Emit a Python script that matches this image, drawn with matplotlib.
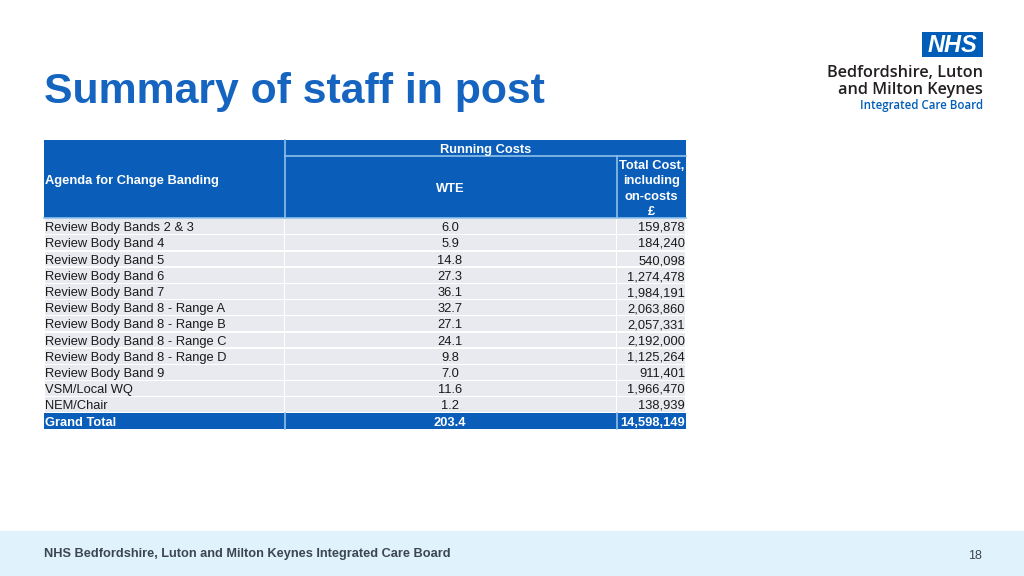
import matplotlib.pyplot as plt
from matplotlib.patches import Rectangle

bands = [
    "Review Body Bands 2 & 3",
    "Review Body Band 4",
    "Review Body Band 5",
    "Review Body Band 6",
    "Review Body Band 7",
    "Review Body Band 8 - Range A",
    "Review Body Band 8 - Range B",
    "Review Body Band 8 - Range C",
    "Review Body Band 8 - Range D",
    "Review Body Band 9",
    "VSM/Local WQ",
    "NEM/Chair",
]
wte = [6.0, 5.9, 14.8, 27.3, 36.1, 32.7, 27.1, 24.1, 9.8, 7.0, 11.6, 1.2]
total_cost = [159878, 184240, 540098, 1274478, 1984191, 2063860,
              2057331, 2192000, 1125264, 911401, 1966470, 138939]
total_label = "Grand Total"
total_wte = 203.4
total_cost_sum = 14598149

BLUE = "#0A5EB9"
LINE = "#8FC0EA"
ROW_BG = "#E8EAEF"
TEXT = "#1A1A1A"

plt.rcParams["font.family"] = ["Liberation Sans", "DejaVu Sans"]

fig = plt.figure(figsize=(10.24, 5.76), dpi=100)
ax = fig.add_axes([0, 0, 1, 1])
ax.set_xlim(0, 1024)
ax.set_ylim(576, 0)
ax.axis("off")

# title
ax.text(44, 92, "Summary of staff in post", color="#1565C0", fontsize=30.8,
        fontweight="bold", ha="left", va="center")

# logo
logo_font = ["Open Sans", "DejaVu Sans"]
ax.add_patch(Rectangle((922, 32), 61, 25, color="#005EB8", lw=0))
ax.text(952.5, 45, "NHS", color="white", fontsize=17, fontweight="bold",
        style="italic", ha="center", va="center")
ax.text(983, 73, "Bedfordshire, Luton", color="#231F20", fontsize=11.7,
        family=logo_font, fontweight="semibold", ha="right", va="center")
ax.text(983, 90, "and Milton Keynes", color="#231F20", fontsize=11.7,
        family=logo_font, fontweight="semibold", ha="right", va="center")
ax.text(983, 106, "Integrated Care Board", color="#005EB8", fontsize=8.3,
        family=logo_font, fontweight="semibold", ha="right", va="center")

# table geometry
x0, x1, x2, x3 = 44, 284.5, 616.5, 686
head_top, sub_top, head_bot = 140, 156, 217.5
row_h = 16.2
fs = 9.3

# header block
ax.add_patch(Rectangle((x0, head_top), x3 - x0, head_bot - head_top, color=BLUE, lw=0))
ax.plot([x1, x1], [head_top, head_bot], color=LINE, lw=1.2)
ax.plot([x1, x3], [sub_top, sub_top], color=LINE, lw=1.2)
ax.plot([x2, x2], [sub_top, head_bot], color=LINE, lw=1.2)
ax.plot([x0, x3], [head_bot, head_bot], color=LINE, lw=1.2)

hkw = dict(color="white", fontsize=fs, fontweight="bold", va="baseline")
ax.text(x0 + 1, 184, "Agenda for Change Banding", ha="left", **hkw)
ax.text((x1 + x3) / 2, 153, "Running Costs", ha="center", **hkw)
ax.text((x1 + x2) / 2, 192, "WTE", ha="center", **hkw)
for i, line in enumerate(["Total Cost,", "including", "on-costs", "£"]):
    ax.text((x2 + x3) / 2, 169 + i * 15.3, line, ha="center", **hkw)

# body rows
body_top = head_bot + 1
for i, (name, w, c) in enumerate(zip(bands, wte, total_cost)):
    y = body_top + i * row_h
    for a, b in [(x0, x1), (x1, x2), (x2, x3)]:
        ax.add_patch(Rectangle((a + 0.6, y + 0.7), b - a - 1.2, row_h - 1.4,
                               color=ROW_BG, lw=0))
    yb = round(y + row_h - 3.5)
    ax.text(x0 + 1, yb, name, color=TEXT, fontsize=fs, ha="left", va="baseline")
    ax.text(round((x1 + x2) / 2), yb, f"{w:.1f}", color=TEXT, fontsize=fs,
            ha="center", va="baseline")
    ax.text(x3 - 1, yb, f"{c:,}", color=TEXT, fontsize=fs,
            ha="right", va="baseline")

# grand total row
y = body_top + len(bands) * row_h
ax.add_patch(Rectangle((x0, y), x3 - x0, row_h, color=BLUE, lw=0))
ax.plot([x1, x1], [y, y + row_h], color=LINE, lw=1.2)
ax.plot([x2, x2], [y, y + row_h], color=LINE, lw=1.2)
yb = round(y + row_h - 3.5)
tkw = dict(color="white", fontsize=fs, fontweight="bold", va="baseline")
ax.text(x0 + 1, yb, total_label, ha="left", **tkw)
ax.text(round((x1 + x2) / 2), yb, f"{total_wte:.1f}", ha="center", **tkw)
ax.text(x3 - 1, yb, f"{total_cost_sum:,}", ha="right", **tkw)

# footer
ax.add_patch(Rectangle((0, 531), 1024, 45, color="#E0F2FB", lw=0))
ax.text(44, 554, "NHS Bedfordshire, Luton and Milton Keynes Integrated Care Board",
        color="#3C4650", fontsize=9.2, fontweight="bold", ha="left", va="center")
ax.text(975, 556, "18", color="#3C4650", fontsize=9, ha="center", va="center")

fig.savefig("out.png", dpi=100)
